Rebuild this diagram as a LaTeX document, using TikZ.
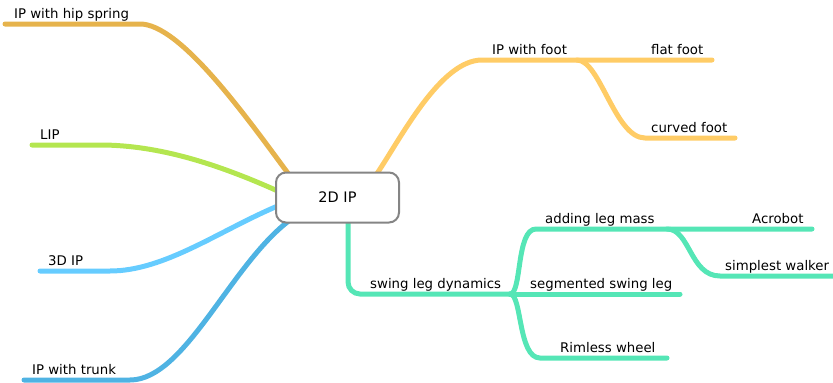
\documentclass[tikz,border=0pt]{standalone}
\usepackage{fontspec}
\setmainfont{DejaVu Sans}
\definecolor{hipc}{HTML}{E6B34C}
\definecolor{lipc}{HTML}{B4E650}
\definecolor{threec}{HTML}{66CCFF}
\definecolor{trunkc}{HTML}{4FB3E3}
\definecolor{footc}{HTML}{FFCC66}
\definecolor{swingc}{HTML}{55E6B6}
\definecolor{boxgray}{HTML}{858585}
\begin{document}
\begin{tikzpicture}[x=1pt,y=-1pt,
  branch/.style={line width=5pt,line cap=round},
  lbl/.style={inner sep=0pt,anchor=base west,font=\fontsize{13.3}{15}\selectfont},
  rootbox/.style={draw=boxgray,line width=2pt,rounded corners=10pt,fill=white,
    minimum width=123pt,minimum height=50pt,inner sep=0pt,font=\fontsize{14.5}{16}\selectfont}]
\useasboundingbox (0,0) rectangle (833,383);
% coordinates
\coordinate (hipA) at (290,176);
\coordinate (hipB) at (140,24);
\coordinate (hipE) at (5,24);
\coordinate (lipA) at (280,192);
\coordinate (lipB) at (100,145);
\coordinate (lipE) at (32,145);
\coordinate (thrA) at (280,205);
\coordinate (thrB) at (110,271);
\coordinate (thrE) at (40,271);
\coordinate (trkA) at (290,220);
\coordinate (trkB) at (130,380);
\coordinate (trkE) at (24,380);
\coordinate (ftA) at (376,175);
\coordinate (ftB) at (482,60);
\coordinate (ftJ) at (577,60);
\coordinate (flatE) at (712,60);
\coordinate (curB) at (645,138);
\coordinate (curE) at (735,138);
\coordinate (swA) at (348,215);
\coordinate (swJ) at (510,294);
\coordinate (addB) at (536,229);
\coordinate (addJ) at (667,229);
\coordinate (acroE) at (812,229);
\coordinate (simB) at (720,276);
\coordinate (simE) at (838,276);
\coordinate (segE) at (680,294);
\coordinate (rimB) at (540,358);
\coordinate (rimE) at (667,358);
% connectors
\draw[branch,hipc] (hipA) .. controls (245,115) and (180,24) .. (hipB) -- (hipE);
\draw[branch,lipc] (lipA) .. controls (220,165) and (160,145) .. (lipB) -- (lipE);
\draw[branch,threec] (thrA) .. controls (220,230) and (165,271) .. (thrB) -- (thrE);
\draw[branch,trunkc] (trkA) .. controls (230,265) and (185,380) .. (trkB) -- (trkE);
\draw[branch,footc] (ftA) .. controls (400,140) and (440,60) .. (ftB) -- (ftJ) -- (flatE);
\draw[branch,footc] (ftJ) .. controls (600,60) and (615,138) .. (curB) -- (curE);
\draw[branch,swingc,rounded corners=12pt] (swA) -- (348,294) -- (swJ);
\draw[branch,swingc] (swJ) .. controls (522,294) and (516,229) .. (addB) -- (addJ) -- (acroE);
\draw[branch,swingc] (addJ) .. controls (690,229) and (690,276) .. (simB) -- (simE);
\draw[branch,swingc] (swJ) -- (segE);
\draw[branch,swingc] (swJ) .. controls (522,294) and (518,358) .. (rimB) -- (rimE);
% root
\node[rootbox] (root) at (337.5,197.5) {2D IP\hspace{12pt}};
% labels
\node[lbl] (hip) at (14,18) {IP with hip spring};
\node[lbl] (lip) at (40,139) {LIP};
\node[lbl] (three) at (48,265) {3D IP};
\node[lbl] (trunk) at (32,374) {IP with trunk};
\node[lbl] (foot) at (492,54) {IP with foot};
\node[lbl] (flat) at (651,54) {flat foot};
\node[lbl] (curved) at (651,132) {curved foot};
\node[lbl] (swing) at (370,288) {swing leg dynamics};
\node[lbl] (adding) at (545,223) {adding leg mass};
\node[lbl] (acro) at (752,223) {Acrobot};
\node[lbl] (simple) at (725,270) {simplest walker};
\node[lbl] (seg) at (530,288) {segmented swing leg};
\node[lbl] (rim) at (560,352) {Rimless wheel};
\end{tikzpicture}
\end{document}
